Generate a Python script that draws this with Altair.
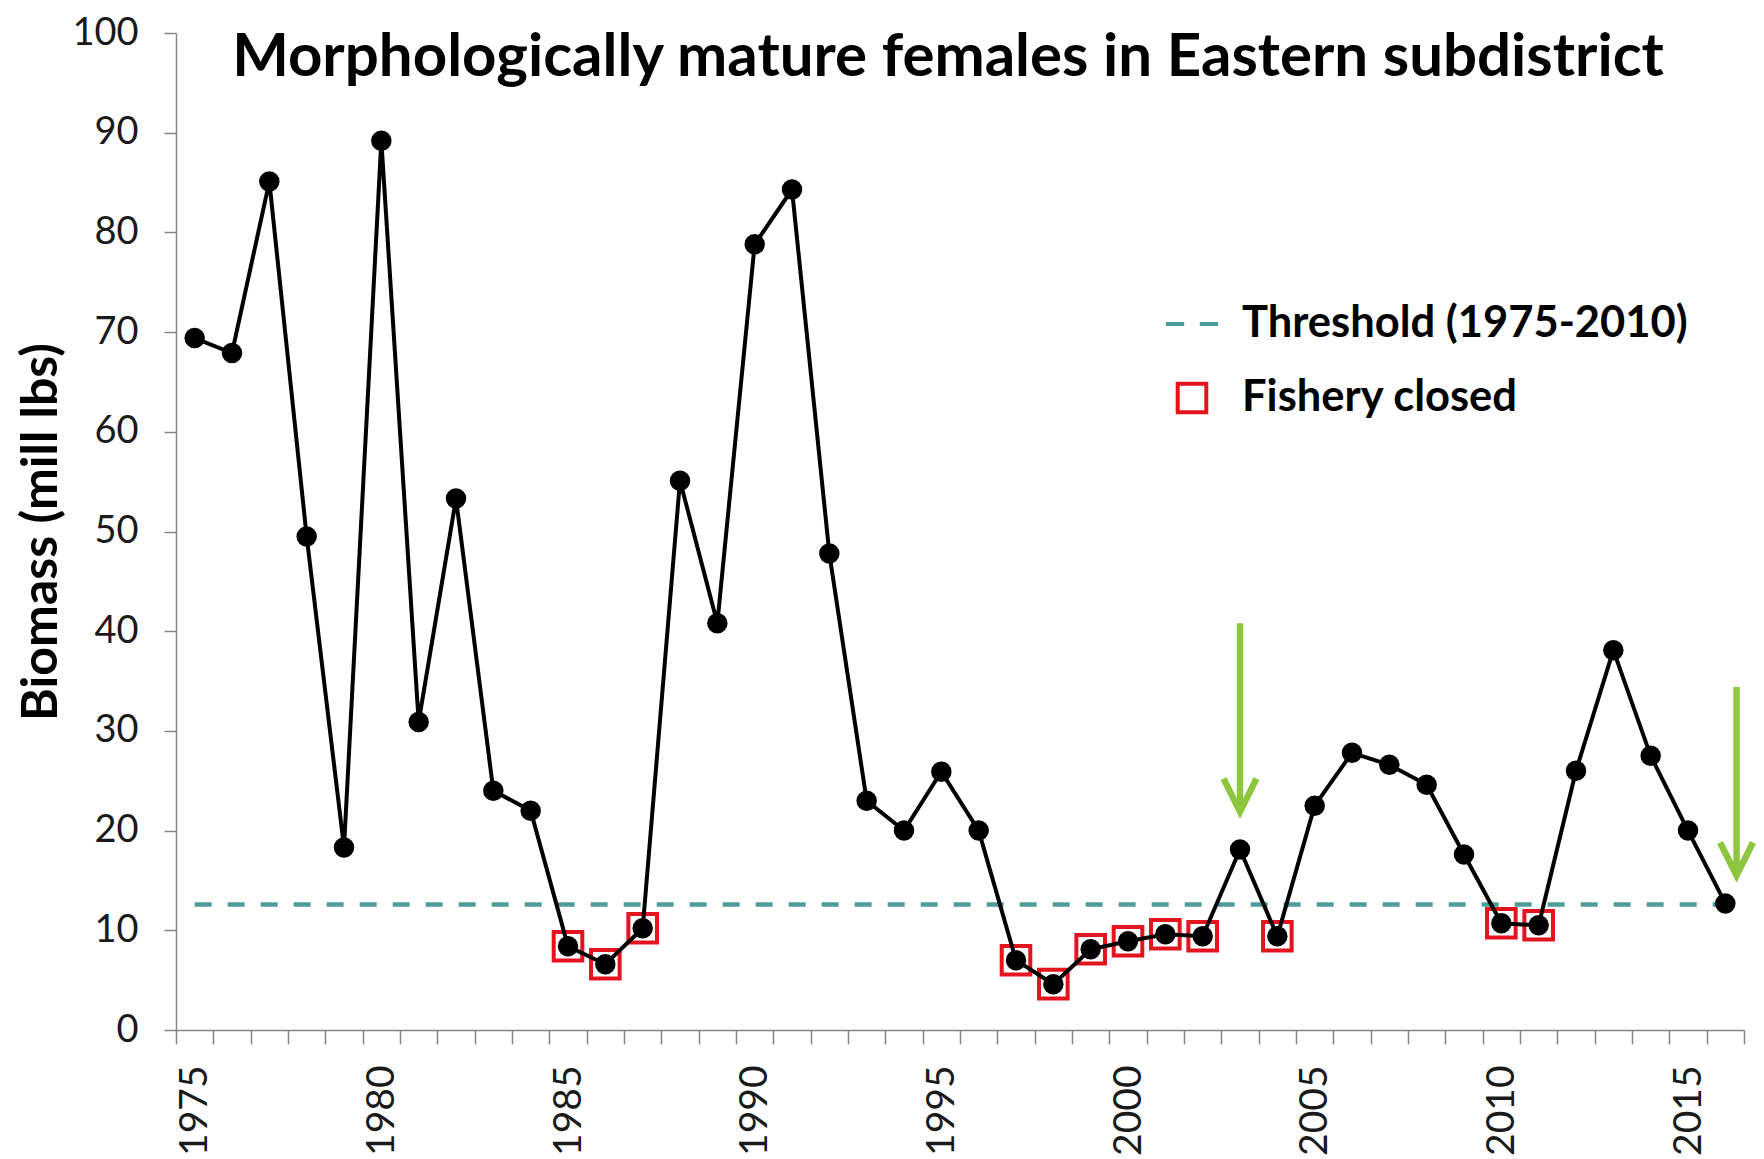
import altair as alt
import pandas as pd

# ---- data ----
years = list(range(1975, 2017))
biomass = [69.4, 67.9, 85.1, 49.5, 18.3, 89.2, 30.9, 53.3, 24.0, 22.0,
           8.4, 6.6, 10.2, 55.1, 40.8, 78.8, 84.3, 47.8, 23.0, 20.0,
           25.9, 20.0, 7.0, 4.6, 8.1, 8.9, 9.6, 9.4, 18.1, 9.4,
           22.5, 27.8, 26.6, 24.6, 17.6, 10.7, 10.5, 26.0, 38.1, 27.5,
           20.0, 12.7]
closed_years = [1985, 1986, 1987, 1997, 1998, 1999, 2000, 2001, 2002, 2004, 2010, 2011]
threshold_years = [1975, 2016]
threshold_value = 12.6
arrow_years = [2003, 2016.3]
arrow_tops = [40.8, 34.4]
arrow_tips = [21.9, 15.5]
x_label_years = [1975, 1980, 1985, 1990, 1995, 2000, 2005, 2010, 2015]
x_tick_bounds = [y - 0.5 for y in years] + [2016.5]
y_ticks = list(range(0, 101, 10))
legend_labels = ["Threshold (1975-2010)", "Fishery closed"]
title_text = "Morphologically mature females in Eastern subdistrict"
y_title = "Biomass (mill lbs)"

# ---- styling ----
FONT = "Lato"
TEAL = "#4E9D9A"
RED = "#E3141E"
GREEN = "#8DC63F"
AXIS_GRAY = "#868686"
W, H = 1568, 997

DASH_PATH = "M-1,0L-0.3,0M0.3,0L1,0"
SQUARE_PATH = "M-0.55,-0.55L0.55,-0.55L0.55,0.55L-0.55,0.55Z"
CHEVRON_PATH = "M-0.5,-1L0,0L0.5,-1"

series = pd.DataFrame({"year": years, "biomass": biomass})
closed = series[series["year"].isin(closed_years)].copy()
closed["status"] = legend_labels[1]
thr = pd.DataFrame({"year": threshold_years, "value": [threshold_value] * len(threshold_years)})
arrows = pd.DataFrame({"year": arrow_years, "top": arrow_tops, "tip": arrow_tips})
title_df = pd.DataFrame({"t": [title_text]})

x_scale = alt.Scale(domain=[1974.5, 2016.5], nice=False, zero=False)
y_scale = alt.Scale(domain=[0, 100], nice=False)

# axis with tick marks on category boundaries (no labels)
x_tick_axis = alt.Axis(
    orient="bottom", values=x_tick_bounds, labels=False,
    tickSize=14, tickColor=AXIS_GRAY, tickWidth=1.5,
    domainColor=AXIS_GRAY, domainWidth=1.5, grid=False, title=None,
)
# axis with year labels on category centres (no ticks)
x_label_axis = alt.Axis(
    orient="bottom", values=x_label_years, format="d",
    ticks=False, tickSize=0, domain=False, grid=False, title=None,
    labelAngle=270, labelAlign="right", labelBaseline="middle",
    labelPadding=35, labelOverlap=False, labelFlush=False,
    labelFont=FONT, labelFontSize=39, labelColor="#1a1a1a",
)
y_axis = alt.Axis(
    values=y_ticks, labelFont=FONT, labelFontSize=38, labelColor="#1a1a1a",
    labelPadding=26, tickSize=12, tickColor=AXIS_GRAY, tickWidth=1.5,
    domainColor=AXIS_GRAY, domainWidth=1.5, grid=False,
    title=y_title, titleFont=FONT, titleFontSize=50, titleFontWeight="bold",
    titleColor="black", titlePadding=5,
)

threshold = alt.Chart(thr).mark_line(
    color=TEAL, strokeWidth=4.5, strokeDash=[17, 16]
).encode(
    x=alt.X("year:Q", scale=x_scale, axis=x_tick_axis),
    y=alt.Y("value:Q", scale=y_scale, axis=y_axis),
)

legend = alt.Legend(
    title=None, orient="none", legendX=988, legendY=263, padding=0,
    labelFont=FONT, labelFontSize=43.5, labelFontWeight="bold", labelColor="black",
    labelLimit=1000, labelOffset=22, symbolSize=2704, symbolStrokeWidth=4,
    rowPadding=24,
)
squares = alt.Chart(closed).mark_point(filled=False, strokeWidth=4, opacity=1).encode(
    x=alt.X("year:Q", scale=x_scale, axis=None),
    y=alt.Y("biomass:Q", scale=y_scale),
    stroke=alt.Stroke("status:N", scale=alt.Scale(domain=legend_labels, range=[TEAL, RED]), legend=legend),
    shape=alt.Shape("status:N", scale=alt.Scale(domain=legend_labels, range=[DASH_PATH, SQUARE_PATH]), legend=legend),
    size=alt.value(2704),
)

line = alt.Chart(series).mark_line(color="black", strokeWidth=4).encode(
    x=alt.X("year:Q", scale=x_scale, axis=x_label_axis),
    y=alt.Y("biomass:Q", scale=y_scale),
)
points = alt.Chart(series).mark_circle(color="black", size=420, opacity=1).encode(
    x=alt.X("year:Q", scale=x_scale, axis=None),
    y=alt.Y("biomass:Q", scale=y_scale),
)

shafts = alt.Chart(arrows).mark_rule(color=GREEN, strokeWidth=6.5).encode(
    x=alt.X("year:Q", scale=x_scale, axis=None),
    y=alt.Y("top:Q", scale=y_scale), y2="tip:Q",
)
heads = alt.Chart(arrows).mark_point(
    shape=CHEVRON_PATH, filled=False, stroke=GREEN, strokeWidth=6.5, size=4356, opacity=1
).encode(
    x=alt.X("year:Q", scale=x_scale, axis=None),
    y=alt.Y("tip:Q", scale=y_scale),
)

title = alt.Chart(title_df).mark_text(
    font=FONT, fontSize=60, fontWeight="bold", color="black",
    align="center", baseline="alphabetic",
).encode(text="t:N", x=alt.value(772), y=alt.value(43))

chart = alt.layer(threshold, squares, line, points, shafts, heads, title).resolve_axis(
    x="independent"
).properties(
    width=W, height=H,
    autosize=alt.AutoSizeParams(type="none"),
    padding={"left": 168, "top": 25, "right": 12, "bottom": 129},
    background="white",
).configure_view(stroke=None)

chart.save("out.html", embed_options={"renderer": "svg", "actions": False})
